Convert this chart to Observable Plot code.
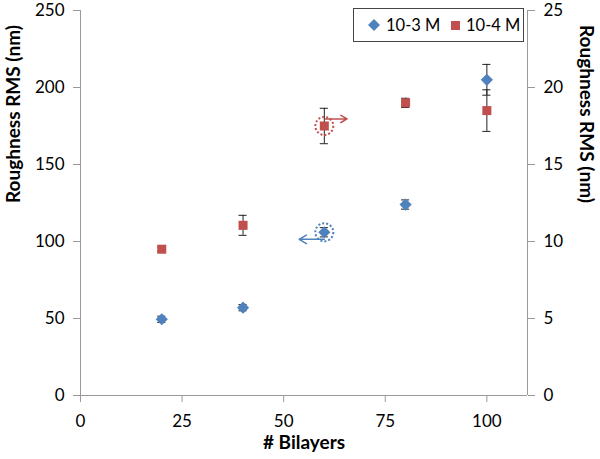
<!DOCTYPE html>
<html><head><meta charset="utf-8">
<script src="https://cdn.jsdelivr.net/npm/d3@7"></script>
<script src="https://cdn.jsdelivr.net/npm/@observablehq/plot@0.6"></script>
<style>
body{margin:0;background:#fff;font-family:Lato,sans-serif}
#wrap{position:relative;width:600px;height:459px;overflow:hidden}
#legend{position:absolute;left:353px;top:8px;width:171px;height:34px;border:1px solid #444;background:#fff;box-sizing:border-box;font-size:16.5px;color:#000}
#legend .item{position:absolute;top:0;height:32px;display:flex;align-items:center;white-space:nowrap}
#legend svg{margin-right:6px}
</style></head><body><div id="wrap"><div id="legend"></div></div>
<script>
const bilayers = [20, 40, 60, 80, 100];
const rms3 = [49.5, 57, 106, 124, 205];      // 10-3 M, left axis (nm)
const err3 = [2, 2, 3, 3, 10];
const rms4 = [9.5, 11.05, 17.5, 19.0, 18.5]; // 10-4 M, right axis (nm)
const err4 = [0.15, 0.65, 1.15, 0.3, 1.35];
const xTicks = [0, 25, 50, 75, 100];
const leftTicks = [0, 50, 100, 150, 200, 250];
const rightTicks = [0, 5, 10, 15, 20, 25];
const seriesNames = ["10-3 M", "10-4 M"];
const colors = ["#4F81BD", "#C0504D"];
const ratio = 10; // right axis scale factor to left axis

const s3 = bilayers.map((x, i) => ({x, y: rms3[i], e: err3[i]}));
const s4 = bilayers.map((x, i) => ({x, y: rms4[i] * ratio, e: err4[i] * ratio}));
const all = s3.concat(s4);

const plot = Plot.plot({
  width: 600, height: 459,
  marginLeft: 80, marginRight: 73, marginTop: 10, marginBottom: 64,
  style: {fontFamily: "Lato, sans-serif", fontSize: "17px", color: "#000", background: "#fff"},
  x: {domain: [0, 110]},
  y: {domain: [0, 250]},
  marks: [
    Plot.ruleX([0, 110], {stroke: "#9a9a9a"}),
    Plot.ruleY([0], {stroke: "#9a9a9a"}),
    Plot.axisX({ticks: xTicks, tickSize: 7, tickPadding: 12, stroke: "#9a9a9a", label: null}),
    Plot.axisY({anchor: "left", ticks: leftTicks, tickSize: 7, tickPadding: 9, stroke: "#9a9a9a", label: null}),
    Plot.axisY({anchor: "right", ticks: rightTicks.map(v => v * ratio), tickFormat: d => d / ratio, tickSize: 7, tickPadding: 9, stroke: "#9a9a9a", label: null}),
    Plot.text(["# Bilayers"], {frameAnchor: "bottom", dy: 53, fontWeight: "bold", fontSize: 19}),
    Plot.text(["Roughness RMS (nm)"], {frameAnchor: "left", rotate: -90, dx: -67, fontWeight: "bold", fontSize: 19}),
    Plot.text(["Roughness RMS (nm)"], {frameAnchor: "right", rotate: 90, dx: 59, fontWeight: "bold", fontSize: 19}),
    // error bars
    Plot.ruleX(all, {x: "x", y1: d => d.y - d.e, y2: d => d.y + d.e, stroke: "#222", strokeWidth: 1}),
    Plot.ruleY(all, {y: d => d.y + d.e, x1: d => d.x - 1, x2: d => d.x + 1, stroke: "#222", strokeWidth: 1}),
    Plot.ruleY(all, {y: d => d.y - d.e, x1: d => d.x - 1, x2: d => d.x + 1, stroke: "#222", strokeWidth: 1}),
    // points
    Plot.dot(s3, {x: "x", y: "y", symbol: "diamond2", r: 5.5, fill: colors[0], stroke: "none"}),
    Plot.dot(s4, {x: "x", y: "y", symbol: "square", r: 5.1, fill: colors[1], stroke: "none"}),
    // annotations
    Plot.dot([s3[2]], {x: "x", y: "y", r: 9, fill: "none", stroke: colors[0], strokeWidth: 2, strokeDasharray: "2,2"}),
    Plot.dot([s4[2]], {x: "x", y: "y", r: 9, fill: "none", stroke: colors[1], strokeWidth: 2, strokeDasharray: "2,2"}),
    Plot.arrow([{x1: 60, y1: 101.4, x2: 53.8, y2: 101.4}], {x1: "x1", y1: "y1", x2: "x2", y2: "y2", stroke: colors[0], strokeWidth: 1.5, headLength: 9}),
    Plot.arrow([{x1: 60.3, y1: 179.6, x2: 65.6, y2: 179.6}], {x1: "x1", y1: "y1", x2: "x2", y2: "y2", stroke: colors[1], strokeWidth: 1.5, headLength: 9})
  ]
});
const wrap = document.getElementById("wrap");
wrap.insertBefore(plot, wrap.firstChild);
plot.style.position = "absolute"; plot.style.left = "0"; plot.style.top = "0";

const legend = document.getElementById("legend");
const symbols = [
  '<svg width="12" height="12" viewBox="-6 -6 12 12"><path d="M0,-6L6,0L0,6L-6,0Z" fill="' + colors[0] + '"/></svg>',
  '<svg width="9" height="9"><rect width="9" height="9" fill="' + colors[1] + '"/></svg>'
];
const lefts = [14, 97];
seriesNames.forEach((n, i) => {
  const d = document.createElement("div");
  d.className = "item";
  d.style.left = lefts[i] + "px";
  d.innerHTML = symbols[i] + "<span>" + n + "</span>";
  legend.appendChild(d);
});
</script>
</body></html>
